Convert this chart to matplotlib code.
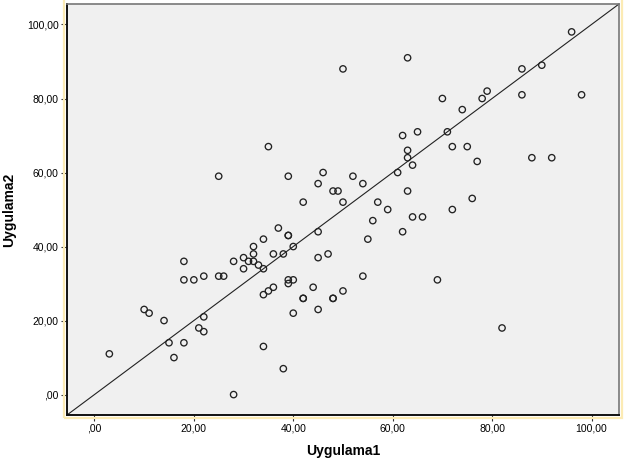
import matplotlib
matplotlib.use('Agg')
import matplotlib.pyplot as plt
from matplotlib.patches import Rectangle
from matplotlib.ticker import FuncFormatter

# Uygulama1 / Uygulama2 scores
uygulama1 = [50, 35, 25, 39, 46, 45, 48, 49, 42, 50,
             63, 96, 86, 90, 86, 98, 70, 78, 79, 74,
             62, 65, 71, 63, 63, 72, 75, 64, 77, 88,
             92, 61, 52, 54, 63, 57, 59, 76, 72, 64,
             66, 56, 62, 55, 54, 69, 50, 82,
             37, 39, 39, 45, 47, 45, 40, 34, 32, 32,
             36, 38, 30, 31, 32, 28, 33, 34, 30, 18,
             18, 20, 22, 25, 26, 39, 40, 39, 36, 35,
             34, 44, 42, 42, 48, 48, 45, 40, 10, 11,
             14, 22, 21, 22, 15, 18, 16, 3, 34, 38, 28]
uygulama2 = [88, 67, 59, 59, 60, 57, 55, 55, 52, 52,
             91, 98, 88, 89, 81, 81, 80, 80, 82, 77,
             70, 71, 71, 66, 64, 67, 67, 62, 63, 64,
             64, 60, 59, 57, 55, 52, 50, 53, 50, 48,
             48, 47, 44, 42, 32, 31, 28, 18,
             45, 43, 43, 44, 38, 37, 40, 42, 40, 38,
             38, 38, 37, 36, 36, 36, 35, 34, 34, 36,
             31, 31, 32, 32, 32, 31, 31, 30, 29, 28,
             27, 29, 26, 26, 26, 26, 23, 22, 23, 22,
             20, 21, 18, 17, 14, 14, 10, 11, 13, 7, 0]
ticks = [0, 20, 40, 60, 80, 100]
lims = (-5.5, 105.5)

plt.rcParams['font.family'] = ['Liberation Sans', 'DejaVu Sans']

fig = plt.figure(figsize=(6.27, 4.59), dpi=100)
ax = fig.add_axes([0.107, 0.096, 0.88, 0.895])
ax.set_facecolor('#f0f0f0')

# pale selection frame around the chart, as in the SPSS viewer
fig.patches.append(Rectangle((0.102, 0.089), 0.890, 0.92, transform=fig.transFigure,
                             fill=False, edgecolor='#fcebb4', linewidth=1.6))

ax.plot(lims, lims, color='#222222', linewidth=0.8, zorder=2)
ax.scatter(uygulama1, uygulama2, s=21, facecolors='none', edgecolors='#222222',
           linewidths=0.95, zorder=3)

ax.set_xlim(lims)
ax.set_ylim(lims)
ax.set_xticks(ticks)
ax.set_yticks(ticks)
fmt = FuncFormatter(lambda v, p: ',00' if v == 0 else f'{v:.0f},00')
ax.xaxis.set_major_formatter(fmt)
ax.yaxis.set_major_formatter(fmt)
ax.tick_params(labelsize=7.5, length=4, width=0.8, color='#333333', pad=2)

for side in ('left', 'bottom'):
    ax.spines[side].set_color('#111111')
    ax.spines[side].set_linewidth(1.4)
for side in ('top', 'right'):
    ax.spines[side].set_color('#777777')
    ax.spines[side].set_linewidth(1.2)

ax.set_xlabel('Uygulama1', fontsize=10, fontweight='bold', labelpad=8)
ax.set_ylabel('Uygulama2', fontsize=10, fontweight='bold', labelpad=8)

fig.savefig('out.png', dpi=100, facecolor='white')
